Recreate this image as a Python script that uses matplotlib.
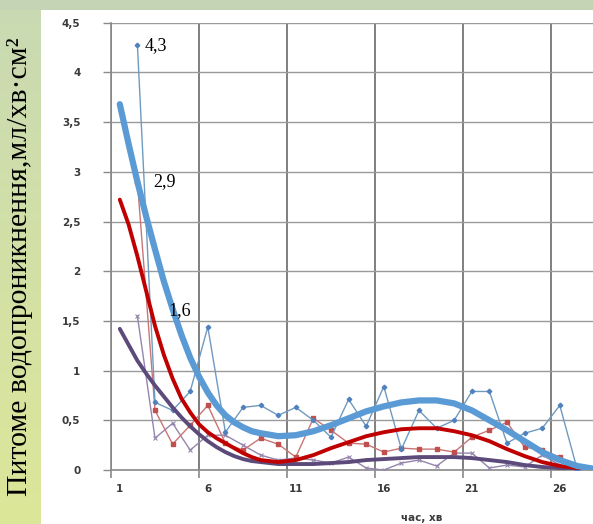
import matplotlib
matplotlib.use('Agg')
import matplotlib.pyplot as plt
import numpy as np

# ---------------- data ----------------
x_raw = list(range(2, 28))
blue_raw = [4.28, 0.68, 0.6, 0.79, 1.44, 0.38, 0.63, 0.65, 0.55, 0.63, 0.5, 0.33, 0.71,
            0.44, 0.84, 0.21, 0.6, 0.42, 0.5, 0.79, 0.79, 0.27, 0.37, 0.42, 0.65, 0.0]
red_raw = [2.9, 0.6, 0.26, 0.45, 0.65, 0.27, 0.2, 0.32, 0.26, 0.13, 0.52, 0.4, 0.27,
           0.26, 0.18, 0.22, 0.21, 0.21, 0.18, 0.33, 0.4, 0.48, 0.23, 0.2, 0.13, 0.02]
purple_raw = [1.55, 0.32, 0.47, 0.2, 0.35, 0.35, 0.25, 0.15, 0.1, 0.12, 0.1, 0.07, 0.13,
              0.02, 0.0, 0.07, 0.1, 0.04, 0.17, 0.17, 0.02, 0.05, 0.03, 0.15, 0.05, 0.0]

x_trend = [1, 1.5, 2, 2.5, 3, 3.5, 4, 4.5, 5, 5.5, 6, 6.5, 7, 7.5, 8, 8.5, 9,
           10, 11, 12, 13, 14, 15, 16, 17, 18, 19, 20, 21, 22, 23, 24, 25, 26, 27, 28]
blue_trend = [3.68, 3.28, 2.9, 2.55, 2.22, 1.9, 1.62, 1.36, 1.13, 0.94, 0.78, 0.65, 0.55, 0.48,
              0.43, 0.39, 0.37,
              0.34, 0.35, 0.39, 0.45, 0.52, 0.59, 0.64, 0.68, 0.7, 0.7, 0.67, 0.6, 0.5,
              0.4, 0.29, 0.18, 0.1, 0.04, 0.01]
red_trend = [2.72, 2.47, 2.15, 1.8, 1.45, 1.16, 0.92, 0.72, 0.58, 0.46, 0.38, 0.32, 0.27, 0.22,
             0.17, 0.13, 0.1,
             0.08, 0.1, 0.15, 0.22, 0.28, 0.34, 0.38, 0.41, 0.42, 0.42, 0.39, 0.35, 0.29,
             0.21, 0.14, 0.08, 0.04, 0.02, 0.01]
purple_trend = [1.42, 1.26, 1.1, 0.97, 0.85, 0.74, 0.63, 0.53, 0.44, 0.36, 0.29, 0.23, 0.18, 0.14,
                0.11, 0.09, 0.08,
                0.06, 0.06, 0.06, 0.07, 0.08, 0.1, 0.11, 0.12, 0.13, 0.13, 0.13, 0.12, 0.1,
                0.08, 0.05, 0.03, 0.02, 0.01, 0.01]

annotations = [("4,3", 2.43, 4.27), ("2,9", 2.89, 2.9), ("1,6", 3.74, 1.6)]

x_labels = [1, 6, 11, 16, 21, 26]
y_ticks = [0, 0.5, 1, 1.5, 2, 2.5, 3, 3.5, 4, 4.5]
y_labels = ["0", "0,5", "1", "1,5", "2", "2,5", "3", "3,5", "4", "4,5"]

ylabel_text = "Питоме водопроникнення,мл/хв·см²"
xlabel_text = "час, хв"

# ---------------- figure ----------------
W, H = 593, 524
fig = plt.figure(figsize=(W / 100, H / 100), dpi=100)

# background (green frame)
bg = fig.add_axes([0, 0, 1, 1], zorder=-10)
img = np.ones((H, W, 3))
top_c = np.array([0.77, 0.835, 0.71])
img[:10, :, :] = top_c
t = np.linspace(0, 1, H - 10)[:, None]
c0 = np.array([0.79, 0.855, 0.70])
c1 = np.array([0.865, 0.905, 0.60])
left = c0 * (1 - t) + c1 * t
img[10:, :41, :] = left[:, None, :]
bg.imshow(img, aspect='auto', extent=[0, W, H, 0], interpolation='bilinear')
bg.set_xlim(0, W)
bg.set_ylim(H, 0)
bg.axis('off')

x0, x1 = 111, 593
y_top, y_bot = 22.7, 470
ax = fig.add_axes([x0 / W, (H - y_bot) / H, (x1 - x0) / W, (y_bot - y_top) / H])
ax.set_facecolor('none')

unit = 17.6
ax.set_xlim(0.5, 0.5 + (x1 - x0) / unit)
ax.set_ylim(0, 4.5)

# grid
ax.set_xticks([0.5, 5.5, 10.5, 15.5, 20.5, 25.5])
ax.set_xticklabels([])
ax.set_xticks(x_labels, minor=True)
ax.set_xticklabels([str(v) for v in x_labels], minor=True)
ax.tick_params(axis='x', which='major', length=6, color='#8a8a8a', width=1.2)
ax.tick_params(axis='x', which='minor', length=0, pad=10)
ax.set_yticks(y_ticks)
ax.set_yticklabels(y_labels)
ax.tick_params(axis='y', length=6, color='#8a8a8a', width=1.0, pad=16)
for lab in ax.get_xticklabels(minor=True) + ax.get_yticklabels():
    lab.set_fontfamily('DejaVu Sans')
    lab.set_fontweight('bold')
    lab.set_fontsize(7.5)
    lab.set_color('#3a3a3a')

ax.grid(axis='y', color='#9a9a9a', lw=1.0)
ax.grid(axis='x', which='major', color='#7f7f7f', lw=1.4)
ax.set_axisbelow(True)
for s in ['top', 'right']:
    ax.spines[s].set_visible(False)
ax.spines['left'].set_color('#8a8a8a')
ax.spines['left'].set_linewidth(1.2)
ax.spines['bottom'].set_color('#8a8a8a')
ax.spines['bottom'].set_linewidth(1.2)

# raw series
ax.plot(x_raw, purple_raw, color='#9585ad', lw=1.0, marker='x', ms=3, mew=0.8, zorder=3)
ax.plot(x_raw, red_raw, color='#c97575', lw=1.0, marker='s', ms=2.8, mec='#c0504d', mfc='#c0504d', zorder=3)
ax.plot(x_raw, blue_raw, color='#6f9ac0', lw=1.0, marker='D', ms=2.3, mec='#4f81bd', mfc='#4f81bd', zorder=3)

# trend lines
ax.plot(x_trend, purple_trend, color='#5c4a7a', lw=2.8, solid_capstyle='round', zorder=4)
ax.plot(x_trend, red_trend, color='#c00000', lw=2.8, solid_capstyle='round', zorder=4)
ax.plot(x_trend, blue_trend, color='#5b9bd5', lw=4.5, solid_capstyle='round', zorder=5)

for txt, xv, yv in annotations:
    ax.text(xv, yv, txt, ha='left', va='center', fontsize=13,
            fontfamily='Liberation Serif', color='black', zorder=6)

fig.text(20 / W, 1 - 267 / H, ylabel_text, rotation=90, ha='center', va='center',
         fontsize=21.5, fontfamily='Liberation Serif', color='black')
fig.text(422 / W, 1 - 518 / H, xlabel_text, ha='center', va='center',
         fontsize=7.5, fontweight='bold', fontfamily='DejaVu Sans', color='#3a3a3a')

fig.savefig('out.png', dpi=100)
